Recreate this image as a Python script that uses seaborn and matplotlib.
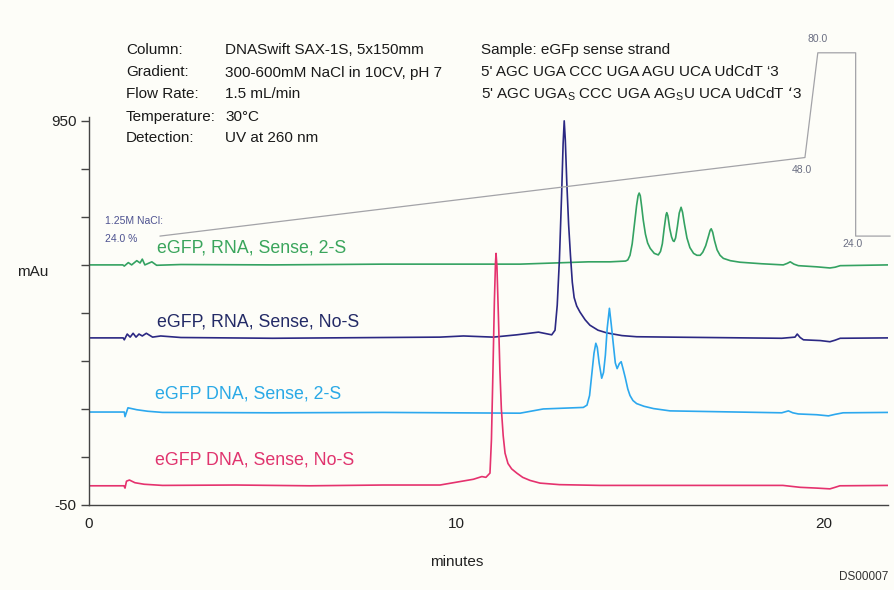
import numpy as np
import pandas as pd
import matplotlib
matplotlib.use("Agg")
import matplotlib.pyplot as plt
import seaborn as sns

# ---------------- data (minutes, mAu) ----------------
green_t = [0, 0.92, 0.96, 1.07, 1.16, 1.30, 1.39, 1.45, 1.52, 1.71, 1.84, 2.5, 5.0, 8.0,
           11.73, 13.59, 14.18, 14.60, 14.66, 14.72, 14.78, 14.84, 14.90, 14.94, 14.97,
           15.00, 15.04, 15.08, 15.14, 15.20, 15.27, 15.38, 15.49, 15.55, 15.60, 15.65,
           15.70, 15.72, 15.75, 15.80, 15.85, 15.89, 15.92, 15.96, 16.01, 16.06, 16.11,
           16.15, 16.20, 16.27, 16.35, 16.45, 16.54, 16.63, 16.70, 16.78, 16.85, 16.90,
           16.93, 16.97, 17.02, 17.09, 17.17, 17.26, 17.45, 17.71, 18.30, 18.89, 19.00,
           19.08, 19.18, 19.30, 19.80, 20.16, 20.30, 20.44, 21.74]
green_v = [575, 575, 572, 581, 575, 586, 580, 590, 575, 583, 574, 576, 575, 577,
           577, 583, 583, 585, 588, 600, 630, 680, 730, 755, 762,
           755, 725, 692, 655, 632, 618, 605, 601, 610, 630, 670,
           705, 711, 703, 670, 648, 638, 636, 645, 675, 710, 725,
           712, 682, 645, 620, 605, 600, 600, 608, 625, 648, 665,
           669, 660, 638, 614, 600, 592, 586, 582, 578, 575, 579,
           583, 577, 573, 570, 567, 569, 573, 575]

navy_t = [0, 0.93, 0.96, 1.04, 1.12, 1.20, 1.28, 1.36, 1.45, 1.56, 1.73, 1.95, 2.5, 5, 8,
          9.55, 10.19, 11.0, 11.64, 12.23, 12.59, 12.68, 12.74, 12.80, 12.86, 12.90,
          12.93, 12.96, 13.00, 13.05, 13.10, 13.15, 13.20, 13.27, 13.36, 13.50, 13.63,
          13.85, 14.09, 14.50, 14.90, 15.81, 18.85, 19.21, 19.27, 19.35, 19.44, 19.90,
          20.16, 20.30, 20.44, 21.74]
navy_v = [385, 385, 380, 395, 387, 397, 387, 395, 390, 397, 387, 390, 386, 384, 386,
          387, 390, 387, 393, 400, 393, 405, 470, 590, 760, 890,
          950, 900, 790, 680, 600, 530, 490, 468, 452, 432, 418,
          405, 398, 391, 388, 387, 384, 387, 395, 386, 380, 378,
          375, 379, 384, 385]

sky_t = [0, 0.96, 0.98, 1.06, 1.3, 1.6, 2.0, 5, 8, 11.73, 12.36, 13.45, 13.55, 13.62,
         13.68, 13.74, 13.79, 13.83, 13.88, 13.95, 14.00, 14.05, 14.10, 14.16, 14.21,
         14.27, 14.32, 14.37, 14.43, 14.48, 14.53, 14.59, 14.66, 14.72, 14.80, 14.90,
         15.10, 15.36, 15.81, 18.85, 19.03, 19.15, 19.30, 19.80, 20.12, 20.30, 20.52, 21.74]
sky_v = [192, 192, 180, 203, 198, 194, 191, 190, 191, 189, 200, 204, 210, 235,
         290, 345, 371, 360, 320, 280, 295, 340, 410, 462, 420,
         365, 320, 305, 318, 323, 305, 282, 252, 235, 222, 214,
         207, 201, 195, 190, 195, 190, 187, 185, 182, 186, 190, 191]

pink_t = [0, 0.95, 0.98, 1.02, 1.1, 1.25, 1.5, 2.0, 4, 6, 8, 9.55, 10.46, 10.69, 10.80,
          10.91, 10.95, 10.99, 11.03, 11.06, 11.075, 11.10, 11.14, 11.18, 11.22, 11.27,
          11.32, 11.40, 11.50, 11.64, 11.80, 12.00, 12.27, 12.80, 13.90, 18.88, 19.35,
          19.80, 20.16, 20.30, 20.43, 21.74]
pink_v = [0, 0, -6, 12, 15, 8, 4, 1, 2, 0, 2, 2, 17, 24, 22,
          33, 120, 294, 480, 580, 605, 570, 440, 300, 200, 130,
          85, 58, 44, 33, 22, 14, 7, 3, 1, 1, -4,
          -6, -8, -4, 0, 1]

trace_names = ["eGFP, RNA, Sense, 2-S", "eGFP, RNA, Sense, No-S",
               "eGFP DNA, Sense, 2-S", "eGFP DNA, Sense, No-S"]

# gradient (% B)
grad_t = [1.93, 19.48, 19.83, 20.86, 20.86, 21.80]
grad_pct = [24.0, 48.0, 80.0, 80.0, 24.0, 24.0]

x_ticks = [0, 2, 4, 6, 8, 10, 12, 14, 16, 18, 20]
x_labels = ["0", "", "", "", "", "10", "", "", "", "", "20"]
y_ticks = [-50, 75, 200, 325, 450, 575, 700, 825, 950]
y_labels = ["-50", "", "", "", "", "", "", "", "950"]

header_left = ["Column:", "Gradient:", "Flow Rate:", "Temperature:", "Detection:"]
header_vals = ["DNASwift SAX-1S, 5x150mm", "300-600mM NaCl in 10CV, pH 7",
               "1.5 mL/min", "30°C", "UV at 260 nm"]
sample_lines = ["Sample: eGFp sense strand",
                "5' AGC UGA CCC UGA AGU UCA UdCdT \u20183",
                "5' AGC UGA$_{\\mathregular{S}}$ CCC UGA AG$_{\\mathregular{S}}$U UCA UdCdT \u20183"]

# ---------------- style ----------------
sns.set_theme(style="white")
plt.rcParams["font.family"] = ["Liberation Sans", "DejaVu Sans"]
plt.rcParams["mathtext.default"] = "regular"

bg = "#fdfdf8"
line_colors = {trace_names[0]: "#34a262", trace_names[1]: "#2b2883",
               trace_names[2]: "#2ca8ee", trace_names[3]: "#e5326e"}
text_colors = {trace_names[0]: "#3aa55c", trace_names[1]: "#232a66",
               trace_names[2]: "#2aa9e6", trace_names[3]: "#e0346e"}

W, H = 894, 590
fig = plt.figure(figsize=(W / 100, H / 100), dpi=100)
fig.patch.set_facecolor(bg)

def fx(px):
    return px / W

def fy(py):
    return 1 - py / H

ax = fig.add_axes([fx(89), fy(505), (888 - 89) / W, (505 - 117) / H])
ax.set_facecolor(bg)

frames = []
for name, t, v in zip(trace_names, [green_t, navy_t, sky_t, pink_t],
                      [green_v, navy_v, sky_v, pink_v]):
    frames.append(pd.DataFrame({"minutes": t, "mAu": v, "trace": name}))
df = pd.concat(frames, ignore_index=True)

sns.lineplot(data=df, x="minutes", y="mAu", hue="trace", palette=line_colors,
             estimator=None, sort=False, legend=False, linewidth=1.2, ax=ax)
for ln in ax.lines:
    ln.set_solid_joinstyle("round")

ax.set_xlim(0, 21.74)
ax.set_ylim(-50, 960)
ax.set_xticks(x_ticks)
ax.set_xticklabels(x_labels)
ax.set_yticks(y_ticks)
ax.set_yticklabels(y_labels)
ax.set_xlabel("")
ax.set_ylabel("")
for s in ["top", "right"]:
    ax.spines[s].set_visible(False)
for s in ["left", "bottom"]:
    ax.spines[s].set_color("#444444")
    ax.spines[s].set_linewidth(1.0)
ax.tick_params(axis="both", direction="out", length=6, width=1, color="#444444",
               labelsize=11, labelcolor="#222222")
ax.tick_params(axis="x", pad=2.5)
ax.tick_params(axis="y", pad=3)

# gradient on a twin axis
ax2 = ax.twinx()
k = 8.52
base_mau = 650
lo = 24 + (-50 - base_mau) / k
hi = 24 + (960 - base_mau) / k
ax2.set_ylim(lo, hi)
sns.lineplot(x=grad_t, y=grad_pct, ax=ax2, color="#a3a3a8", linewidth=0.9,
             estimator=None, sort=False)
for ln in ax2.lines:
    ln.set_clip_on(False)
ax2.set_yticks([])
for s in ax2.spines.values():
    s.set_visible(False)
ax2.set_ylabel("")

gcol = "#6a6e82"
ax2.annotate("80.0", (grad_t[2], grad_pct[2]), xytext=(0, 10), textcoords="offset points",
             ha="center", va="center", fontsize=7.5, color=gcol, annotation_clip=False)
ax2.annotate("48.0", (grad_t[1], grad_pct[1]), xytext=(-2, -9), textcoords="offset points",
             ha="center", va="center", fontsize=7.5, color=gcol, annotation_clip=False)
ax2.annotate("24.0", (grad_t[4], grad_pct[4]), xytext=(-2, -6), textcoords="offset points",
             ha="center", va="center", fontsize=7.5, color=gcol, annotation_clip=False)
fig.text(fx(105), fy(221), "1.25M NaCl:", fontsize=7.5, color="#4d5290", va="center", ha="left")
fig.text(fx(105), fy(239), "24.0 %", fontsize=7.5, color="#4d5290", va="center", ha="left")

# trace labels
label_pos = [(157, 248), (157, 322), (155, 394), (155, 460)]
for name, (px, py) in zip(trace_names, label_pos):
    fig.text(fx(px), fy(py), name, fontsize=12.8, color=text_colors[name],
             ha="left", va="center")

# header text
rows = [50, 72.5, 94.5, 116.5, 138.5]
for lab, val, py in zip(header_left, header_vals, rows):
    fig.text(fx(126), fy(py), lab, fontsize=11, color="#1a1a1a", ha="left", va="center")
    fig.text(fx(225), fy(py), val, fontsize=11, color="#1a1a1a", ha="left", va="center")
for line, py in zip(sample_lines, rows[:3]):
    fig.text(fx(481), fy(py), line, fontsize=11, color="#1a1a1a", ha="left", va="center")

fig.text(fx(33), fy(272), "mAu", fontsize=11, color="#222222", ha="center", va="center")
fig.text(fx(457), fy(562), "minutes", fontsize=11, color="#222222", ha="center", va="center")
fig.text(fx(888), fy(577), "DS00007", fontsize=8.5, color="#333333", ha="right", va="center")

fig.savefig("out.png", dpi=100, facecolor=bg)
